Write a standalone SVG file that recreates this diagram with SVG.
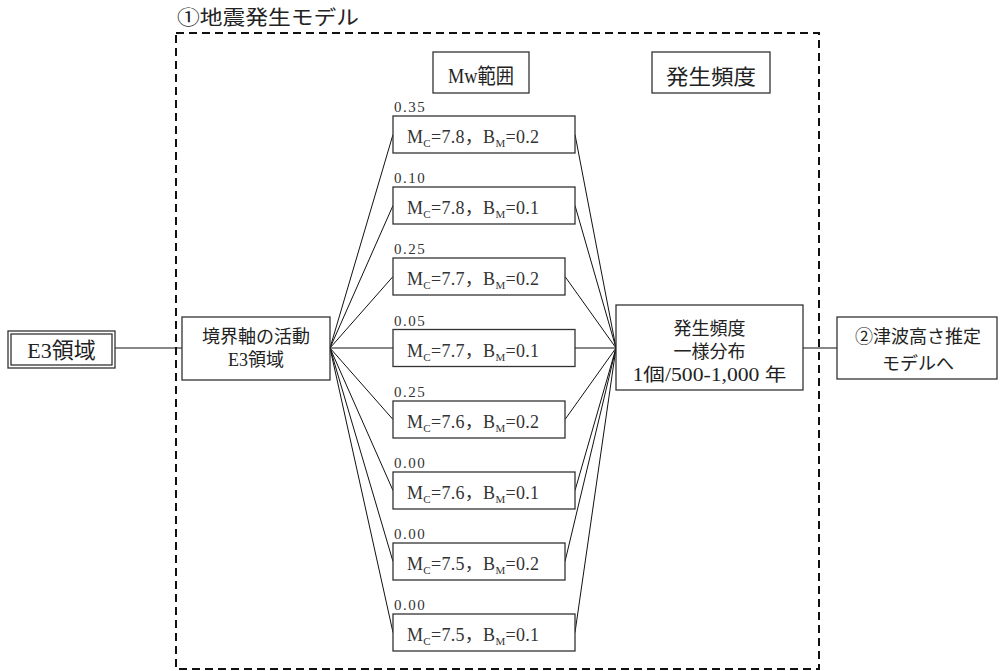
<svg xmlns="http://www.w3.org/2000/svg" width="1000" height="671" viewBox="0 0 1000 671">
<style>
text{font-family:'Liberation Serif','Noto Sans CJK JP',serif;fill:#222}
.box{fill:#fff;stroke:#333;stroke-width:1.3}
.hdr{font-size:21px}
.mid{font-size:18px}
.mc{font-size:18px;fill:#333}
.sub{font-size:11px}
.lbl{font-size:15px;letter-spacing:1.5px;fill:#333}
.ln{stroke:#111;stroke-width:1;fill:none}
</style>
<rect width="1000" height="671" fill="#fff"/>
<g id="frame">
<rect x="176" y="33" width="643" height="636" fill="none" stroke="#111" stroke-width="2" stroke-dasharray="8 5"/>
<text x="177" y="25" font-size="20" textLength="182" lengthAdjust="spacingAndGlyphs">①地震発生モデル</text>
</g>
<g id="connectors">
<line class="ln" x1="115" y1="348" x2="182" y2="348"/>
<line class="ln" x1="803" y1="348" x2="837" y2="348"/>
<path class="ln" d="M330 348L393 134.5M330 348L393 205.5M330 348L393 276.5M330 348L393 348M330 348L393 419.5M330 348L393 490.5M330 348L393 561.5M330 348L393 632.5"/>
<path class="ln" d="M575 134.5L616 348M575 205.5L616 348M565 276.5L616 348M575 348L616 348M565 419.5L616 348M575 490.5L616 348M565 561.5L616 348M575 632.5L616 348"/>
</g>
<g id="e3">
<rect class="box" x="8" y="331" width="107" height="37"/>
<rect class="box" x="11" y="334" width="101" height="31"/>
<text x="61.5" y="358" font-size="22" text-anchor="middle">E3領域</text>
</g>
<g id="boundary">
<rect class="box" x="182" y="317" width="148" height="63"/>
<text class="mid" x="256" y="343" text-anchor="middle">境界軸の活動</text>
<text class="mid" x="256" y="366" text-anchor="middle">E3領域</text>
</g>
<g id="hdr-mw">
<rect class="box" x="433" y="52" width="96" height="41"/>
<text class="hdr" x="481" y="83" text-anchor="middle" textLength="66" lengthAdjust="spacingAndGlyphs">Mw範囲</text>
</g>
<g id="hdr-freq">
<rect class="box" x="652" y="52" width="118" height="41"/>
<text class="hdr" x="711" y="84" text-anchor="middle" textLength="90" lengthAdjust="spacingAndGlyphs">発生頻度</text>
</g>
<g id="mc1">
<text class="lbl" x="394" y="112">0.35</text>
<rect class="box" x="393" y="116" width="182" height="37"/>
<text class="mc" x="407" y="143" textLength="132">M<tspan class="sub" dy="4">C</tspan><tspan dy="-4">=7.8，B</tspan><tspan class="sub" dy="4">M</tspan><tspan dy="-4">=0.2</tspan></text>
</g>
<g id="mc2">
<text class="lbl" x="394" y="183">0.10</text>
<rect class="box" x="393" y="187" width="182" height="37"/>
<text class="mc" x="407" y="214" textLength="132">M<tspan class="sub" dy="4">C</tspan><tspan dy="-4">=7.8，B</tspan><tspan class="sub" dy="4">M</tspan><tspan dy="-4">=0.1</tspan></text>
</g>
<g id="mc3">
<text class="lbl" x="394" y="254">0.25</text>
<rect class="box" x="393" y="258" width="172" height="37"/>
<text class="mc" x="407" y="285" textLength="132">M<tspan class="sub" dy="4">C</tspan><tspan dy="-4">=7.7，B</tspan><tspan class="sub" dy="4">M</tspan><tspan dy="-4">=0.2</tspan></text>
</g>
<g id="mc4">
<text class="lbl" x="394" y="325.5">0.05</text>
<rect class="box" x="393" y="329.5" width="182" height="37"/>
<text class="mc" x="407" y="356.5" textLength="132">M<tspan class="sub" dy="4">C</tspan><tspan dy="-4">=7.7，B</tspan><tspan class="sub" dy="4">M</tspan><tspan dy="-4">=0.1</tspan></text>
</g>
<g id="mc5">
<text class="lbl" x="394" y="397">0.25</text>
<rect class="box" x="393" y="401" width="172" height="37"/>
<text class="mc" x="407" y="428" textLength="132">M<tspan class="sub" dy="4">C</tspan><tspan dy="-4">=7.6，B</tspan><tspan class="sub" dy="4">M</tspan><tspan dy="-4">=0.2</tspan></text>
</g>
<g id="mc6">
<text class="lbl" x="394" y="468">0.00</text>
<rect class="box" x="393" y="472" width="182" height="37"/>
<text class="mc" x="407" y="499" textLength="132">M<tspan class="sub" dy="4">C</tspan><tspan dy="-4">=7.6，B</tspan><tspan class="sub" dy="4">M</tspan><tspan dy="-4">=0.1</tspan></text>
</g>
<g id="mc7">
<text class="lbl" x="394" y="539">0.00</text>
<rect class="box" x="393" y="543" width="172" height="37"/>
<text class="mc" x="407" y="570" textLength="132">M<tspan class="sub" dy="4">C</tspan><tspan dy="-4">=7.5，B</tspan><tspan class="sub" dy="4">M</tspan><tspan dy="-4">=0.2</tspan></text>
</g>
<g id="mc8">
<text class="lbl" x="394" y="610">0.00</text>
<rect class="box" x="393" y="614" width="182" height="37"/>
<text class="mc" x="407" y="641" textLength="132">M<tspan class="sub" dy="4">C</tspan><tspan dy="-4">=7.5，B</tspan><tspan class="sub" dy="4">M</tspan><tspan dy="-4">=0.1</tspan></text>
</g>
<g id="freq">
<rect class="box" x="616" y="305" width="187" height="85"/>
<text class="mid" x="709.5" y="335" font-size="19" text-anchor="middle">発生頻度</text>
<text class="mid" x="709.5" y="358" font-size="19" text-anchor="middle">一様分布</text>
<text class="mid" x="709.5" y="381" font-size="19" text-anchor="middle" textLength="154" lengthAdjust="spacingAndGlyphs">1個/500-1,000 年</text>
</g>
<g id="tsunami">
<rect class="box" x="837" y="317" width="160" height="62"/>
<text class="mid" x="918" y="343" font-size="19" text-anchor="middle">②津波高さ推定</text>
<text class="mid" x="918" y="370" font-size="19" text-anchor="middle">モデルへ</text>
</g>
</svg>
